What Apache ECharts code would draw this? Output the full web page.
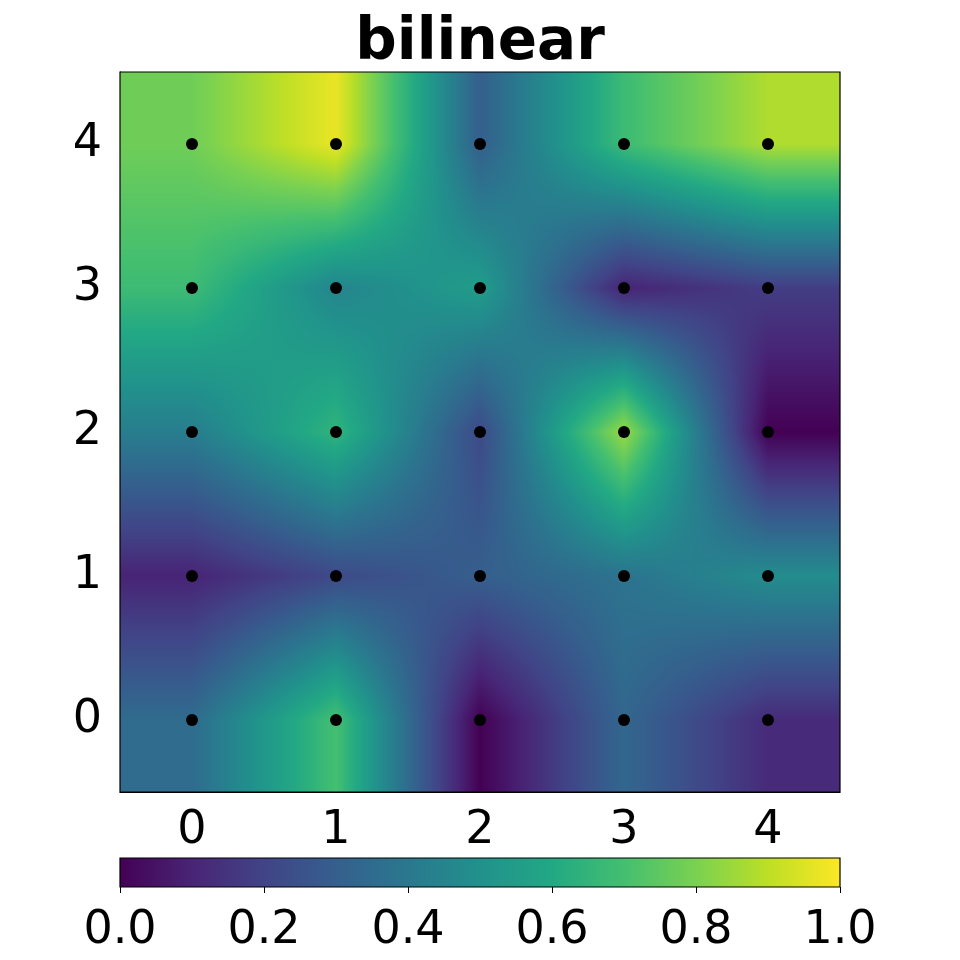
<!DOCTYPE html>
<html>
<head>
<meta charset="utf-8">
<script src="https://cdn.jsdelivr.net/npm/echarts@6/dist/echarts.min.js"></script>
<style>
  html, body { margin: 0; background: #fff; }
  #chart { width: 960px; height: 960px; }
</style>
</head>
<body>
<div id="chart"></div>
<script>
const xLabels = ['0', '1', '2', '3', '4']
const yLabels = ['0', '1', '2', '3', '4']
// grid values, one row per y, from y=0 (bottom) up to y=4 (top)
const row0 = [0.35, 0.70, 0.00, 0.33, 0.12]
const row1 = [0.10, 0.22, 0.30, 0.38, 0.48]
const row2 = [0.42, 0.65, 0.22, 0.85, 0.00]
const row3 = [0.68, 0.45, 0.55, 0.10, 0.18]
const row4 = [0.78, 0.97, 0.30, 0.68, 0.88]
const rows = [row0, row1, row2, row3, row4]
const cbTicks = [0, 0.2, 0.4, 0.6, 0.8, 1.0]

// viridis, 11 stops
const viridis = [
  [68, 1, 84], [72, 36, 117], [65, 68, 135], [53, 95, 141], [42, 120, 142],
  [33, 145, 140], [34, 168, 132], [68, 191, 112], [122, 209, 81], [189, 223, 38], [253, 231, 37]
]

function colorAt(v) {
  v = Math.max(0, Math.min(1, v))
  const t = v * (viridis.length - 1)
  const i = Math.min(Math.floor(t), viridis.length - 2)
  const f = t - i
  const a = viridis[i], b = viridis[i + 1]
  return [a[0] + (b[0] - a[0]) * f, a[1] + (b[1] - a[1]) * f, a[2] + (b[2] - a[2]) * f]
}

function sample(fx, fy) {
  const n = xLabels.length - 1
  fx = Math.max(0, Math.min(n, fx))
  fy = Math.max(0, Math.min(n, fy))
  const i = Math.min(Math.floor(fx), n - 1)
  const j = Math.min(Math.floor(fy), n - 1)
  const u = fx - i, w = fy - j
  const v00 = rows[j][i], v10 = rows[j][i + 1]
  const v01 = rows[j + 1][i], v11 = rows[j + 1][i + 1]
  return (v00 * (1 - u) + v10 * u) * (1 - w) + (v01 * (1 - u) + v11 * u) * w
}

let cache = null
function buildImage(w, h) {
  if (cache && cache.width === w && cache.height === h) return cache
  const canvas = document.createElement('canvas')
  canvas.width = w
  canvas.height = h
  const ctx = canvas.getContext('2d')
  const img = ctx.createImageData(w, h)
  const span = xLabels.length
  for (let py = 0; py < h; py++) {
    const fy = span - 0.5 - (py + 0.5) / h * span
    for (let px = 0; px < w; px++) {
      const fx = -0.5 + (px + 0.5) / w * span
      const c = colorAt(sample(fx, fy))
      const k = (py * w + px) * 4
      img.data[k] = c[0]
      img.data[k + 1] = c[1]
      img.data[k + 2] = c[2]
      img.data[k + 3] = 255
    }
  }
  ctx.putImageData(img, 0, 0)
  cache = canvas
  return canvas
}

const points = []
rows.forEach((r, j) => r.forEach((v, i) => points.push([i, j, v])))

const font = 'DejaVu Sans'
const chart = echarts.init(document.getElementById('chart'))
chart.setOption({
  backgroundColor: '#fff',
  animation: false,
  title: {
    text: 'bilinear',
    left: 'center',
    top: 10,
    textStyle: { fontFamily: font, fontSize: 58, fontWeight: 'bold', color: '#000' }
  },
  grid: [
    { left: 120, top: 72, width: 720, height: 720 },
    { left: 120, top: 858, width: 720, height: 29 }
  ],
  xAxis: [{
    type: 'category',
    data: xLabels,
    gridIndex: 0,
    axisLine: { lineStyle: { color: '#000', width: 1 } },
    axisTick: { alignWithLabel: true, length: 6, lineStyle: { color: '#000', width: 1 } },
    axisLabel: { fontFamily: font, fontSize: 46, color: '#000', margin: 16 },
    splitLine: { show: false }
  }, {
    type: 'value',
    gridIndex: 1,
    min: 0,
    max: 1,
    interval: 0.2,
    axisLine: { show: false },
    axisTick: { show: true, length: 6, lineStyle: { color: '#000', width: 1 } },
    axisLabel: { fontFamily: font, fontSize: 46, color: '#000', margin: 21, formatter: v => v.toFixed(1) },
    splitLine: { show: false }
  }],
  yAxis: [{
    type: 'category',
    data: yLabels,
    gridIndex: 0,
    axisLine: { lineStyle: { color: '#000', width: 1 } },
    axisTick: { alignWithLabel: true, length: 6, lineStyle: { color: '#000', width: 1 } },
    axisLabel: { fontFamily: font, fontSize: 46, color: '#000', margin: 18 },
    splitLine: { show: false }
  }, {
    type: 'value',
    gridIndex: 1,
    min: 0,
    max: 1,
    show: false
  }],
  series: [{
    type: 'custom',
    xAxisIndex: 0,
    yAxisIndex: 0,
    z: 1,
    silent: true,
    data: [0],
    renderItem(params, api) {
      const r = params.coordSys
      const w = Math.round(r.width), h = Math.round(r.height)
      return {
        type: 'group',
        children: [{
          type: 'image',
          style: { image: buildImage(w, h), x: r.x, y: r.y, width: r.width, height: r.height }
        }, {
          type: 'rect',
          shape: { x: r.x, y: r.y, width: r.width, height: r.height },
          style: { fill: 'none', stroke: '#000', lineWidth: 1.2 }
        }]
      }
    }
  }, {
    type: 'scatter',
    xAxisIndex: 0,
    yAxisIndex: 0,
    z: 3,
    symbolSize: 12,
    itemStyle: { color: '#000', opacity: 1 },
    data: points
  }, {
    type: 'custom',
    xAxisIndex: 1,
    yAxisIndex: 1,
    silent: true,
    data: [0],
    renderItem(params, api) {
      const r = params.coordSys
      return {
        type: 'rect',
        shape: { x: r.x, y: r.y, width: r.width, height: r.height },
        style: {
          fill: new echarts.graphic.LinearGradient(0, 0, 1, 0,
            viridis.map((c, i) => ({ offset: i / (viridis.length - 1), color: 'rgb(' + c.join(',') + ')' }))),
          stroke: '#000',
          lineWidth: 1.2
        }
      }
    }
  }]
})
</script>
</body>
</html>
